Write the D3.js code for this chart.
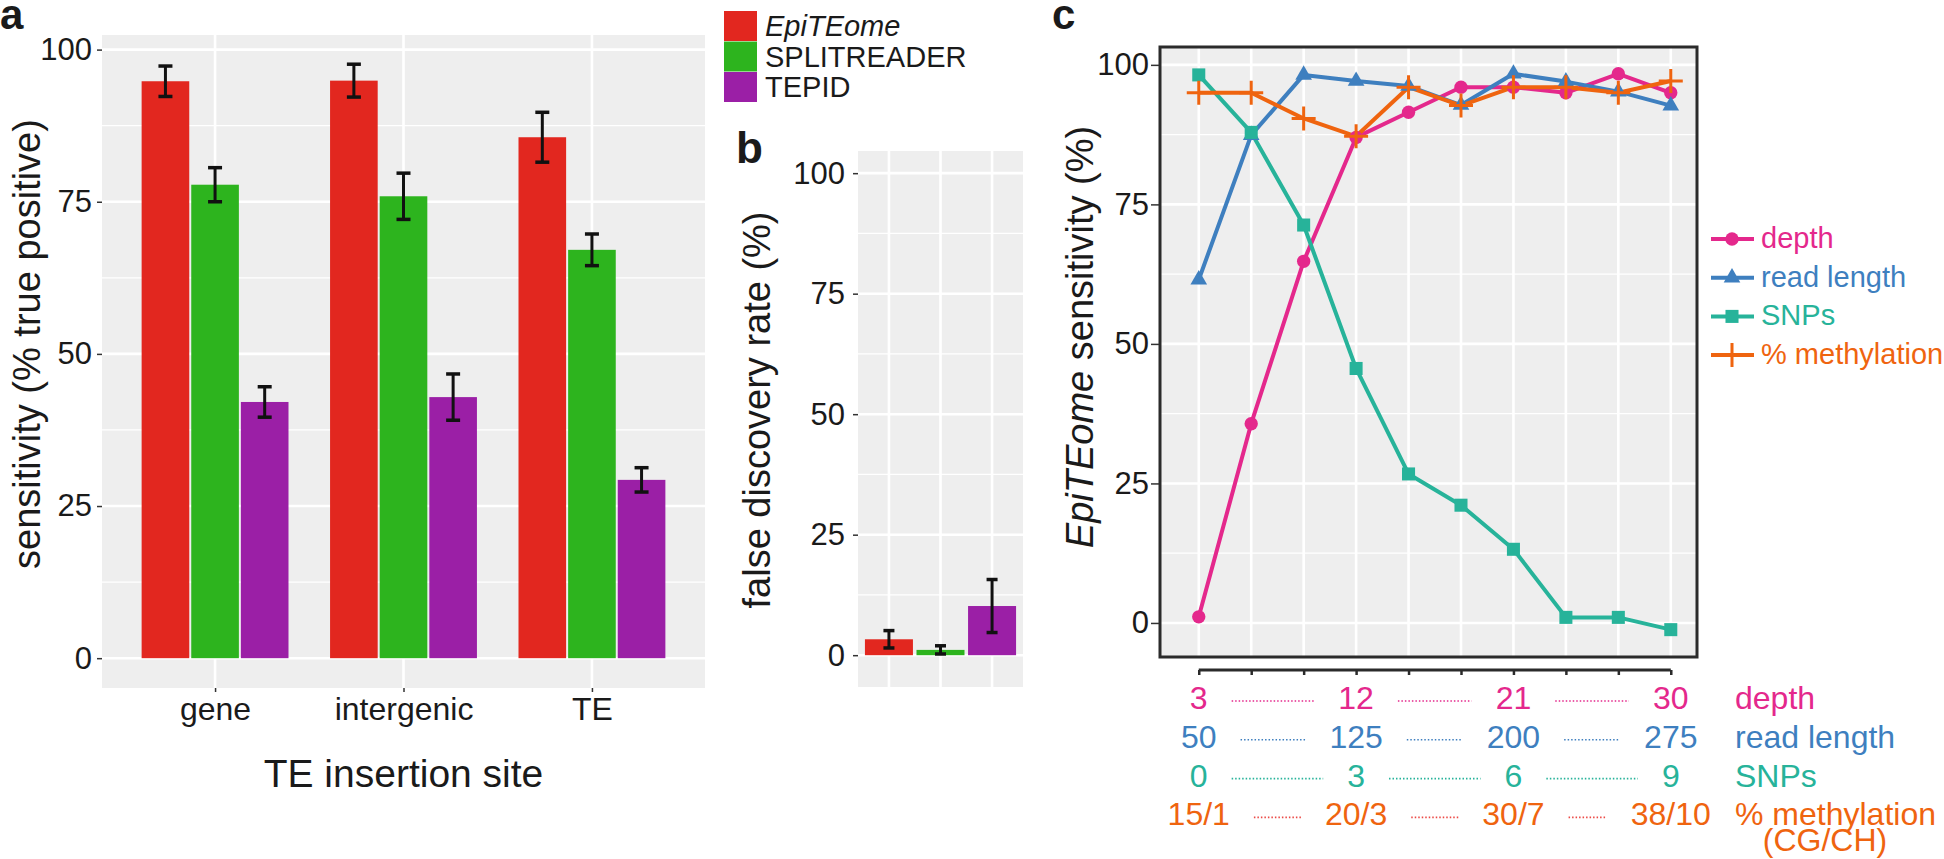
<!DOCTYPE html>
<html>
<head>
<meta charset="utf-8">
<script src="https://cdn.jsdelivr.net/npm/d3@7"></script>
<style>
body { margin: 0; background: #fff; }
text { font-family: "Liberation Sans", Arial, Helvetica, sans-serif; fill: #1a1a1a; }
</style>
</head>
<body>
<div id="viz"></div>
<script>
// ---- panel a : sensitivity by insertion site ----
var sites = ['gene', 'intergenic', 'TE'];
var methods = ['EpiTEome', 'SPLITREADER', 'TEPID'];
var methodColors = ['#E2271F', '#2DB41E', '#9B1FA6'];
var sensEpi = [94.8, 94.9, 85.6];
var sensSplit = [77.8, 75.9, 67.1];
var sensTepid = [42.1, 42.9, 29.3];
var errEpi = [2.5, 2.7, 4.1];
var errSplit = [2.8, 3.8, 2.6];
var errTepid = [2.5, 3.8, 2.0];

// ---- panel b : false discovery rate ----
var fdr = [3.3, 1.1, 10.2];
var fdrErr = [1.8, 0.85, 5.5];

// ---- panel c : EpiTEome sensitivity vs parameters ----
var seriesNames = ['depth', 'read length', 'SNPs', '% methylation'];
var seriesColors = ['#E4288C', '#3E7FBF', '#27B39A', '#EF640F'];
var seriesShapes = ['circle', 'triangle', 'square', 'plus'];
var depthVals = [1.1, 35.7, 64.8, 87.0, 91.5, 96.0, 96.0, 95.0, 98.4, 95.0];
var readVals = [61.5, 87.4, 98.2, 97.1, 96.2, 92.8, 98.4, 97.0, 95.2, 92.7];
var snpVals = [98.2, 87.9, 71.3, 45.6, 26.7, 21.1, 13.2, 1.0, 1.0, -1.2];
var methVals = [95.0, 95.0, 90.4, 87.2, 96.0, 92.7, 96.0, 96.0, 95.0, 97.1];
var depthTicks = ['3', '12', '21', '30'];
var readTicks = ['50', '125', '200', '275'];
var snpTicks = ['0', '3', '6', '9'];
var methTicks = ['15/1', '20/3', '30/7', '38/10'];
var dotColors = ['#E4288C', '#3E7FBF', '#27B39A', '#EC4A46'];

var yTicks = [0, 25, 50, 75, 100];
var yMinor = [12.5, 37.5, 62.5, 87.5];
var panelBg = '#EEEEEE';

var svg = d3.select('#viz').append('svg')
	.attr('width', 1944)
	.attr('height', 859);

// draws gray panel + white grid
function drawPanel(g, x, y, xGrid) {
	var xr = x.range(), yr = y.range();
	g.append('rect')
		.attr('x', xr[0]).attr('y', yr[1])
		.attr('width', xr[1] - xr[0]).attr('height', yr[0] - yr[1])
		.attr('fill', panelBg);
	g.selectAll('.minor').data(yMinor).enter().append('line')
		.attr('x1', xr[0]).attr('x2', xr[1])
		.attr('y1', function(d) { return y(d); }).attr('y2', function(d) { return y(d); })
		.attr('stroke', '#fff').attr('stroke-width', 1.3);
	g.selectAll('.major').data(yTicks).enter().append('line')
		.attr('x1', xr[0]).attr('x2', xr[1])
		.attr('y1', function(d) { return y(d); }).attr('y2', function(d) { return y(d); })
		.attr('stroke', '#fff').attr('stroke-width', 2.6);
	g.selectAll('.vgrid').data(xGrid).enter().append('line')
		.attr('y1', yr[0]).attr('y2', yr[1])
		.attr('x1', function(d) { return x(d); }).attr('x2', function(d) { return x(d); })
		.attr('stroke', '#fff').attr('stroke-width', 2.6);
}

function yAxis(g, y, xPos, size, pad) {
	var ax = g.append('g')
		.attr('transform', 'translate(' + xPos + ',0)')
		.call(d3.axisLeft(y).tickValues(yTicks).tickSize(size).tickPadding(pad).tickSizeOuter(0));
	ax.select('.domain').remove();
	ax.selectAll('line').attr('stroke', '#333').attr('stroke-width', 1.5);
	ax.selectAll('text').attr('font-size', 31).attr('fill', '#1a1a1a')
		.attr('font-family', '"Liberation Sans", Arial, sans-serif');
}

function vTitle(g, x, y, parts) {
	var t = g.append('text')
		.attr('transform', 'translate(' + x + ',' + y + ') rotate(-90)')
		.attr('text-anchor', 'middle')
		.attr('font-size', 38);
	parts.forEach(function(p) {
		t.append('tspan').text(p[0]).attr('font-style', p[1] ? 'italic' : 'normal');
	});
}

function errorBar(g, cx, yTop, yBot, w) {
	g.append('line').attr('x1', cx).attr('x2', cx).attr('y1', yTop).attr('y2', yBot)
		.attr('stroke', '#111').attr('stroke-width', 3);
	[yTop, yBot].forEach(function(yy) {
		g.append('line').attr('x1', cx - w / 2).attr('x2', cx + w / 2).attr('y1', yy).attr('y2', yy)
			.attr('stroke', '#111').attr('stroke-width', 3.5);
	});
}

// ================= panel a =================
var ga = svg.append('g');
var xa = d3.scaleLinear().domain([0.4, 3.6]).range([102, 705]);
var ya = d3.scaleLinear().domain([-4.9, 102.4]).range([688, 35]);
drawPanel(ga, xa, ya, [1, 2, 3]);

var sensAll = [sensEpi, sensSplit, sensTepid];
var errAll = [errEpi, errSplit, errTepid];
var dodge = 0.79, unit = xa(1) - xa(0);
sites.forEach(function(s, i) {
	methods.forEach(function(m, j) {
		var x0 = xa(i + 1 - dodge / 2 + j * dodge / 3);
		var w = unit * dodge / 3;
		ga.append('rect')
			.attr('x', x0 + 1).attr('width', w - 2)
			.attr('y', ya(sensAll[j][i])).attr('height', ya(0) - ya(sensAll[j][i]))
			.attr('fill', methodColors[j]);
	});
});
sites.forEach(function(s, i) {
	methods.forEach(function(m, j) {
		var cx = xa(i + 1 - dodge / 2 + (j + 0.5) * dodge / 3);
		errorBar(ga, cx, ya(sensAll[j][i] + errAll[j][i]), ya(sensAll[j][i] - errAll[j][i]), 14);
	});
});

yAxis(ga, ya, 102, 5, 5);
var axA = ga.append('g').attr('transform', 'translate(0,688)')
	.call(d3.axisBottom(xa).tickValues([1, 2, 3]).tickFormat(function(d) { return sites[d - 1]; })
		.tickSize(4).tickPadding(5).tickSizeOuter(0));
axA.select('.domain').remove();
axA.selectAll('line').attr('stroke', '#333').attr('stroke-width', 1.5);
axA.selectAll('text').attr('font-size', 32).attr('fill', '#1a1a1a')
	.attr('font-family', '"Liberation Sans", Arial, sans-serif');

ga.append('text').attr('x', (xa.range()[0] + xa.range()[1]) / 2).attr('y', 787)
	.attr('text-anchor', 'middle').attr('font-size', 39).text('TE insertion site');
vTitle(ga, 40, 344, [['sensitivity (% true positive)', false]]);
ga.append('text').attr('x', 0).attr('y', 29).attr('font-size', 42).attr('font-weight', 'bold').text('a');

// legend for a/b
var leg = svg.append('g').attr('transform', 'translate(724,11)');
methods.forEach(function(m, j) {
	leg.append('rect').attr('x', 0).attr('y', j * 30.5).attr('width', 33).attr('height', 30)
		.attr('fill', methodColors[j]);
	leg.append('text').attr('x', 41).attr('y', j * 30.5 + 25)
		.attr('font-size', 29).attr('font-style', j == 0 ? 'italic' : 'normal').text(m);
});

// ================= panel b =================
var gb = svg.append('g');
var xb = d3.scaleLinear().domain([0.4, 3.6]).range([858, 1023]);
var yb = d3.scaleLinear().domain([-6.6, 104.6]).range([687, 151]);
drawPanel(gb, xb, yb, [1, 2, 3]);
var ub = xb(1) - xb(0);
methods.forEach(function(m, j) {
	gb.append('rect')
		.attr('x', xb(j + 1) - ub * 0.97 / 2 + 1).attr('width', ub * 0.97 - 2)
		.attr('y', yb(fdr[j])).attr('height', yb(0) - yb(fdr[j]))
		.attr('fill', methodColors[j]);
});
methods.forEach(function(m, j) {
	errorBar(gb, xb(j + 1), yb(fdr[j] + fdrErr[j]), yb(Math.max(0, fdr[j] - fdrErr[j])), 11);
});
yAxis(gb, yb, 858, 5, 8);
vTitle(gb, 770, 410, [['false discovery rate (%)', false]]);
gb.append('text').attr('x', 736).attr('y', 163).attr('font-size', 44).attr('font-weight', 'bold').text('b');

// ================= panel c =================
var gc = svg.append('g');
var xc = d3.scaleLinear().domain([-0.72, 9.5]).range([1161, 1697]);
var yc = d3.scaleLinear().domain([-6.1, 103.2]).range([657, 47]);
var idx = d3.range(10);
drawPanel(gc, xc, yc, idx);
gc.append('rect').attr('x', 1160).attr('y', 47).attr('width', 537).attr('height', 610)
	.attr('fill', 'none').attr('stroke', '#2b2b2b').attr('stroke-width', 3);

var seriesVals = [depthVals, readVals, snpVals, methVals];
var line = d3.line()
	.x(function(d, i) { return xc(i); })
	.y(function(d) { return yc(d); });
seriesVals.forEach(function(v, k) {
	gc.append('path').datum(v).attr('d', line)
		.attr('fill', 'none').attr('stroke', seriesColors[k]).attr('stroke-width', 4)
		.attr('stroke-linejoin', 'round');
});

function marker(g, shape, color, cx, cy) {
	if (shape == 'plus') {
		g.append('path')
			.attr('d', 'M' + (cx - 12) + ',' + cy + 'H' + (cx + 12) + 'M' + cx + ',' + (cy - 12) + 'V' + (cy + 12))
			.attr('stroke', color).attr('stroke-width', 3).attr('fill', 'none');
		return;
	}
	var sym = { circle: d3.symbolCircle, triangle: d3.symbolTriangle, square: d3.symbolSquare }[shape];
	var size = { circle: 140, triangle: 120, square: 170 }[shape];
	g.append('path').attr('d', d3.symbol().type(sym).size(size)())
		.attr('transform', 'translate(' + cx + ',' + cy + ')')
		.attr('fill', color);
}
seriesVals.forEach(function(v, k) {
	v.forEach(function(d, i) { marker(gc, seriesShapes[k], seriesColors[k], xc(i), yc(d)); });
});

yAxis(gc, yc, 1159, 8, 2);
vTitle(gc, 1093, 337, [['EpiTEome', true], [' sensitivity (%)', false]]);
gc.append('text').attr('x', 1052).attr('y', 29).attr('font-size', 42).attr('font-weight', 'bold').text('c');

// legend c
var legc = svg.append('g');
seriesNames.forEach(function(n, k) {
	var cy = 239 + k * 38.7;
	legc.append('line').attr('x1', 1711).attr('x2', 1754).attr('y1', cy).attr('y2', cy)
		.attr('stroke', seriesColors[k]).attr('stroke-width', 4);
	marker(legc, seriesShapes[k], seriesColors[k], 1732, cy);
	legc.append('text').attr('x', 1761).attr('y', cy + 9).attr('font-size', 29)
		.style('fill', seriesColors[k]).text(n);
});

// bottom tick axis of c
var axC = gc.append('g').attr('transform', 'translate(0,670)')
	.call(d3.axisBottom(xc).tickValues(idx).tickFormat('').tickSize(5).tickSizeOuter(0));
axC.select('.domain').remove();
axC.selectAll('line').attr('stroke', '#2b2b2b').attr('stroke-width', 2.5);
axC.append('line').attr('x1', xc(0)).attr('x2', xc(9)).attr('y1', 0).attr('y2', 0)
	.attr('stroke', '#2b2b2b').attr('stroke-width', 3);

// parameter table under c
var tickRows = [depthTicks, readTicks, snpTicks, methTicks];
var tbl = svg.append('g');
tickRows.forEach(function(row, k) {
	var by = 709 + k * 38.8;
	var boxes = [];
	row.forEach(function(lab, i) {
		var t = tbl.append('text').attr('x', xc(i * 3)).attr('y', by)
			.attr('text-anchor', 'middle').attr('font-size', 32)
			.style('fill', seriesColors[k]).text(lab);
		boxes.push(t.node().getBBox());
	});
	for (var i = 0; i < boxes.length - 1; i++) {
		var a = boxes[i].x + boxes[i].width + 24, b = boxes[i + 1].x - 24;
		tbl.append('line').attr('x1', a).attr('x2', b).attr('y1', by - 8).attr('y2', by - 8)
			.attr('stroke', dotColors[k]).attr('stroke-width', 1.6).attr('stroke-dasharray', '1.5,2');
	}
	tbl.append('text').attr('x', 1735).attr('y', by).attr('font-size', 32)
		.style('fill', seriesColors[k]).text(seriesNames[k]);
});
tbl.append('text').attr('x', 1825).attr('y', 709 + 3 * 38.8 + 26).attr('text-anchor', 'middle')
	.attr('font-size', 32).style('fill', seriesColors[3]).text('(CG/CH)');
</script>
</body>
</html>
